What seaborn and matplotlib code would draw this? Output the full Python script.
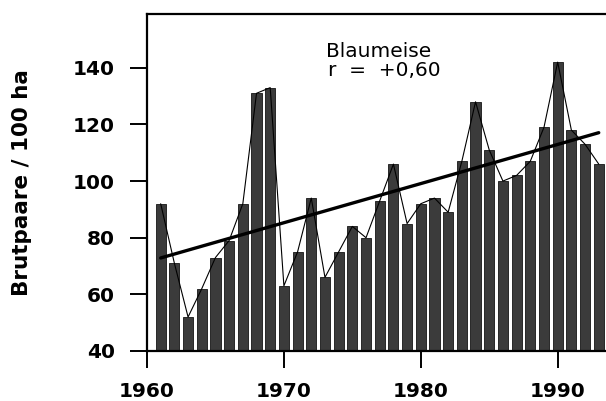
import numpy as np
import pandas as pd
import matplotlib
matplotlib.use("Agg")
import matplotlib.pyplot as plt
import seaborn as sns

# Blue tit breeding pairs per 100 ha, 1961-1993
years = list(range(1961, 1994))
pairs = [92, 71, 52, 62, 73, 79, 92, 131, 133, 63, 75, 94, 66, 75, 84, 80,
         93, 106, 85, 92, 94, 89, 107, 128, 111, 100, 102, 107, 119, 142,
         118, 113, 106]
y_ticks = [40, 60, 80, 100, 120, 140]
x_ticks = [1960, 1970, 1980, 1990]
species = "Blaumeise"
corr_label = "r  =  +0,60"

df = pd.DataFrame({"Jahr": years, "Brutpaare": pairs})

sns.set_theme(style="white")
plt.rcParams["font.family"] = ["DejaVu Sans"]
plt.rcParams["text.color"] = "black"
plt.rcParams["axes.labelcolor"] = "black"
plt.rcParams["xtick.color"] = "black"
plt.rcParams["ytick.color"] = "black"

fig = plt.figure(figsize=(6.06, 4.01), dpi=100)
ax = fig.add_axes([147 / 606, 50 / 401, 459 / 606, 337 / 401])

sns.barplot(data=df, x="Jahr", y="Brutpaare", native_scale=True, width=0.74,
            color="#3b3b3b", edgecolor="#151515", linewidth=0.6,
            saturation=1, ax=ax, zorder=2)

# thin line joining the bar tops
sns.lineplot(data=df, x="Jahr", y="Brutpaare", color="black", linewidth=0.8,
             ax=ax, zorder=3)

# linear trend
sns.regplot(data=df, x="Jahr", y="Brutpaare", scatter=False, ci=None,
            truncate=True, color="black", line_kws={"linewidth": 2.4, "zorder": 4},
            ax=ax)

ax.set_xlim(1960, 1993.53)
ax.set_ylim(40, 159)
ax.set_xticks(x_ticks)
ax.set_yticks(y_ticks)
ax.set_xticklabels([str(t) for t in x_ticks], fontsize=14.5, fontweight="bold",
                   color="black")
ax.set_yticklabels([str(t) for t in y_ticks], fontsize=14.5, fontweight="bold",
                   color="black")
ax.tick_params(axis="both", direction="out", length=12, width=1.4,
               color="black", pad=10, left=True, bottom=True)
ax.tick_params(axis="y", pad=11)

for side in ["left", "bottom", "top"]:
    ax.spines[side].set_visible(True)
    ax.spines[side].set_color("black")
    ax.spines[side].set_linewidth(1.6)
ax.spines["right"].set_visible(False)

ax.set_xlabel("")
ax.set_ylabel("Brutpaare / 100 ha", fontsize=15.5, fontweight="bold", va="center",
              color="black")
ax.yaxis.set_label_coords(-0.272, 0.5)

ax.text(0.505, 0.89, species, transform=ax.transAxes, ha="center", va="center",
        fontsize=14.5, color="black")
ax.text(0.518, 0.832, corr_label, transform=ax.transAxes, ha="center", va="center",
        fontsize=14.5, color="black")

fig.savefig("out.png", dpi=100, facecolor="white")
